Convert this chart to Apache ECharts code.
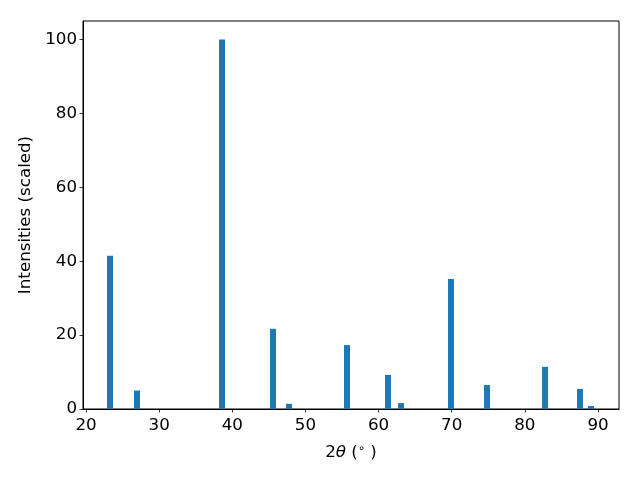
<!DOCTYPE html>
<html>
<head>
<meta charset="utf-8">
<script src="https://cdn.jsdelivr.net/npm/echarts@6/dist/echarts.min.js"></script>
<style>html,body{margin:0;padding:0;background:#fff}#chart{width:640px;height:480px}</style>
</head>
<body>
<div id="chart"></div>
<script>
const twoTheta = [23.28, 26.97, 38.6, 45.57, 47.75, 55.68, 61.29, 63.07, 69.9, 74.83, 82.76, 87.54, 89.04];
const intensities = [41.5, 5.0, 100, 21.7, 1.4, 17.3, 9.2, 1.6, 35.2, 6.5, 11.4, 5.4, 0.8];
const xTicks = [20, 30, 40, 50, 60, 70, 80, 90];
const yTicks = [0, 20, 40, 60, 80, 100];

const font = 'DejaVu Sans';
const fs = 16.7;
const chart = echarts.init(document.getElementById('chart'), null, {renderer: 'canvas'});
chart.setOption({
  animation: false,
  backgroundColor: '#fff',
  grid: {left: 83, right: 21, top: 21, bottom: 71, show: true, borderColor: '#000', borderWidth: 1, backgroundColor: 'transparent'},
  xAxis: {
    type: 'value', min: 19.59, max: 92.87,
    splitLine: {show: false},
    axisLine: {show: true, lineStyle: {color: '#000', width: 1}},
    axisTick: {show: true, length: 3.5, inside: false, customValues: xTicks, lineStyle: {color: '#000', width: 0.8}},
    axisLabel: {customValues: xTicks, margin: 8, color: '#000', fontFamily: font, fontSize: fs},
    name: '{n|2}{i|θ}{n| (}{s|∘}{n| )}',
    nameLocation: 'middle', nameGap: 34,
    nameTextStyle: {
      rich: {
        n: {fontFamily: font, fontSize: fs, color: '#000'},
        i: {fontFamily: font, fontSize: fs, fontStyle: 'italic', color: '#000'},
        s: {fontFamily: font, fontSize: 11.5, color: '#000', verticalAlign: 'top', padding: [0, 0, 7, 0]}
      }
    }
  },
  yAxis: {
    type: 'value', min: 0, max: 105,
    splitLine: {show: false},
    axisLine: {show: true, lineStyle: {color: '#000', width: 1}},
    axisTick: {show: true, length: 3.5, customValues: yTicks, lineStyle: {color: '#000', width: 0.8}},
    axisLabel: {customValues: yTicks, margin: 6, color: '#000', fontFamily: font, fontSize: fs},
    name: 'Intensities (scaled)',
    nameLocation: 'middle', nameGap: 47,
    nameTextStyle: {fontFamily: font, fontSize: fs, color: '#000'}
  },
  series: [{
    type: 'bar',
    data: twoTheta.map((x, i) => [x, intensities[i]]),
    barWidth: 6,
    itemStyle: {color: '#1f77b4'}
  }]
});
</script>
</body>
</html>
